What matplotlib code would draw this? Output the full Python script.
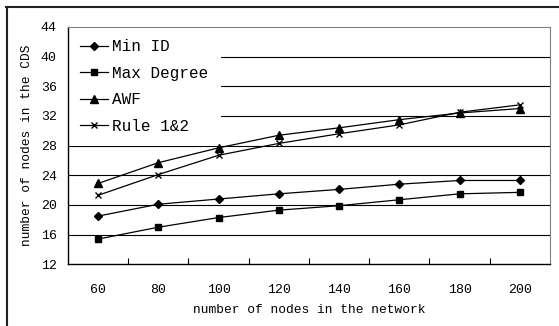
import matplotlib.pyplot as plt
import numpy as np

nodes = [60, 80, 100, 120, 140, 160, 180, 200]
min_id = [18.5, 20.1, 20.8, 21.5, 22.1, 22.8, 23.3, 23.3]
max_degree = [15.4, 17.0, 18.3, 19.3, 19.9, 20.7, 21.5, 21.7]
awf = [22.9, 25.7, 27.7, 29.4, 30.4, 31.5, 32.4, 33.0]
rule12 = [21.3, 24.1, 26.7, 28.3, 29.6, 30.8, 32.5, 33.5]
yticks = [12, 16, 20, 24, 28, 32, 36, 40, 44]

plt.rcParams['font.family'] = ['Liberation Mono', 'DejaVu Sans Mono']

fig = plt.figure(figsize=(5.59, 3.26), dpi=100)
ax = fig.add_axes([0.1216, 0.1893, 0.8623, 0.728])

x = np.arange(len(nodes))
ax.plot(x, min_id, color='black', lw=0.9, marker='D', ms=4, label='Min ID')
ax.plot(x, max_degree, color='black', lw=0.9, marker='s', ms=5, label='Max Degree')
ax.plot(x, awf, color='black', lw=0.9, marker='^', ms=5.5, label='AWF')
ax.plot(x, rule12, color='black', lw=0.9, marker='x', ms=5, mew=1, label='Rule 1&2')

ax.set_xlim(-0.5, len(nodes) - 0.5)
ax.set_ylim(12, 44)
ax.set_yticks(yticks)
ax.set_yticklabels([str(v) for v in yticks], fontsize=9.5)
ax.set_xticks(x)
ax.set_xticklabels([str(n) for n in nodes], fontsize=9.5)
ax.set_xticks(np.arange(len(nodes) - 1) + 0.5, minor=True)
ax.tick_params(axis='x', which='major', length=0, pad=14)
ax.tick_params(axis='x', which='minor', direction='in', length=4, width=0.8)
ax.tick_params(axis='y', length=0, pad=8)

for v in yticks[1:-1]:
    ax.axhline(v, color='black', lw=0.8, zorder=0)
ax.spines['top'].set_color('#808080')
ax.spines['right'].set_color('#808080')
ax.spines['left'].set_linewidth(1)
ax.spines['bottom'].set_linewidth(1)

ax.set_xlabel('number of nodes in the network', fontsize=9.3, labelpad=6)
ax.set_ylabel('number of nodes in the CDS', fontsize=9.3, labelpad=6)

leg = ax.legend(loc='upper left', bbox_to_anchor=(0, 1), borderaxespad=0,
                fontsize=11.5, handlelength=1.7, handletextpad=0.3,
                labelspacing=0.72, fancybox=False, framealpha=1,
                borderpad=0.78)
leg.get_frame().set_edgecolor('white')
leg.get_frame().set_linewidth(0)
leg.set_zorder(1.5)

# outer frame (top and left edges only are visible)
fig.add_artist(plt.Line2D([0.011, 1], [0.98, 0.98], color='#222222', lw=1.5,
                          transform=fig.transFigure))
fig.add_artist(plt.Line2D([0.012, 0.012], [0, 0.98], color='#222222', lw=1.5,
                          transform=fig.transFigure))

fig.savefig('out.png', dpi=100)
